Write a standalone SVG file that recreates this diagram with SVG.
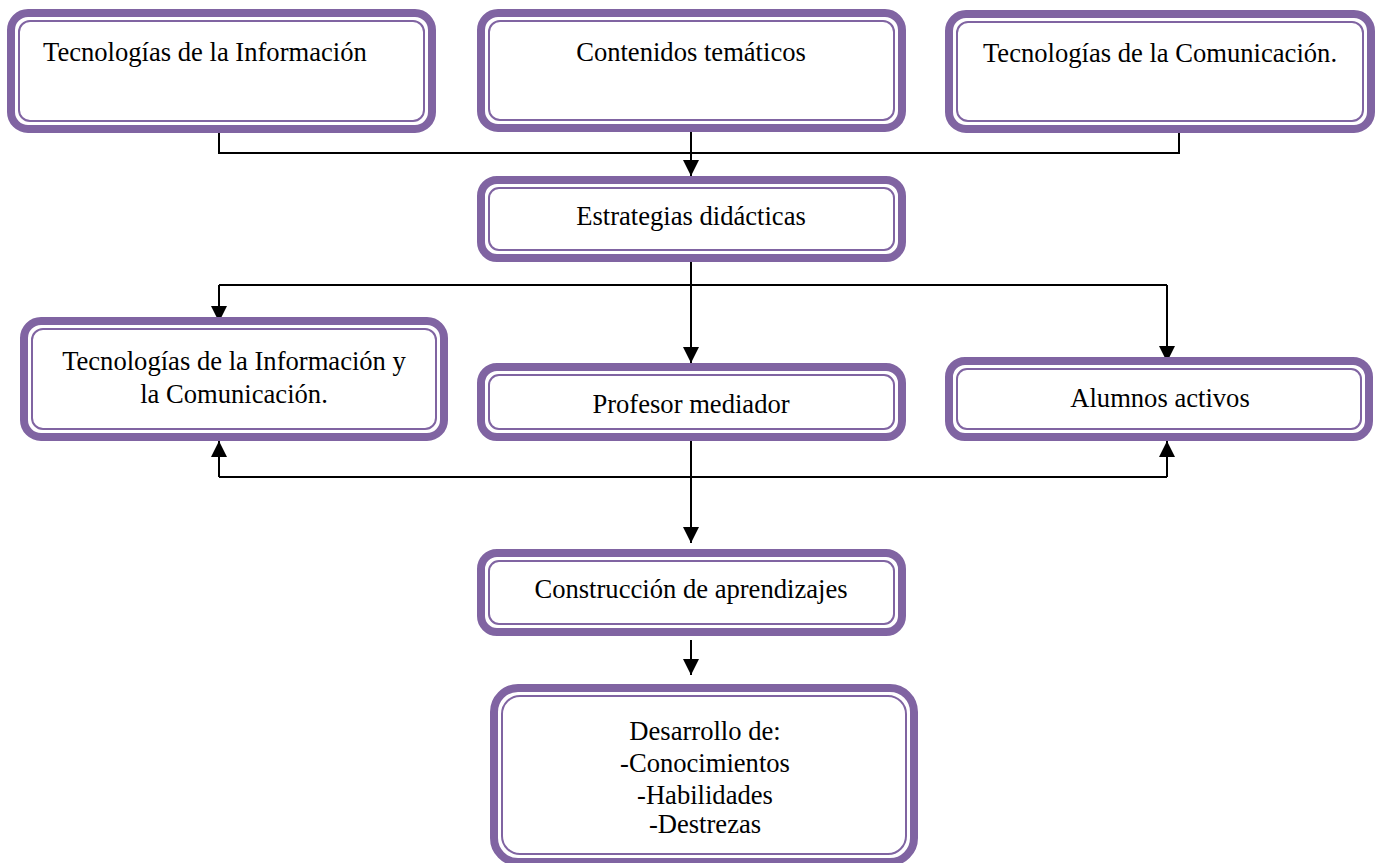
<svg xmlns="http://www.w3.org/2000/svg" width="1376" height="863" viewBox="0 0 1376 863">
<style>
.outer{fill:#fff;stroke:#8064A2;stroke-width:8}
.inner{fill:none;stroke:#8064A2;stroke-width:2}
.t{font-family:"Liberation Serif","Times New Roman",serif;font-size:26.6px;fill:#000}
.c{text-anchor:middle}
.ln{fill:none;stroke:#000;stroke-width:2}
</style>
<defs>
<marker id="ah" viewBox="0 0 16 16" refX="16" refY="8" markerWidth="16" markerHeight="16" markerUnits="userSpaceOnUse" orient="auto">
<path d="M0,0 L16,8 L0,16 z" fill="#000"/>
</marker>
</defs>
<rect width="1376" height="863" fill="#fff"/>
<g id="connectors">
<path class="ln" d="M219,133 V153 H1179 V133"/>
<path class="ln" d="M691,132 V176" marker-end="url(#ah)"/>
<path class="ln" d="M691,262 V363" marker-end="url(#ah)"/>
<path class="ln" d="M219,285 H1167"/>
<path class="ln" d="M219,285 V322" marker-end="url(#ah)"/>
<path class="ln" d="M1167,285 V362" marker-end="url(#ah)"/>
<path class="ln" d="M691,441 V543" marker-end="url(#ah)"/>
<path class="ln" d="M219,477 H1167"/>
<path class="ln" d="M219,477 V441" marker-end="url(#ah)"/>
<path class="ln" d="M1167,477 V441" marker-end="url(#ah)"/>
<path class="ln" d="M691,640 V675" marker-end="url(#ah)"/>
</g>
<g id="n1">
<rect class="outer" x="11" y="13" width="421" height="116" rx="17"/>
<rect class="inner" x="19" y="21" width="405" height="100" rx="11"/>
<text class="t" x="43" y="61">Tecnologías de la Información</text>
</g>
<g id="n2">
<rect class="outer" x="481" y="13" width="421" height="115" rx="17"/>
<rect class="inner" x="489" y="21" width="405" height="99" rx="11"/>
<text class="t c" x="691" y="61">Contenidos temáticos</text>
</g>
<g id="n3">
<rect class="outer" x="949" y="14" width="422" height="115" rx="17"/>
<rect class="inner" x="957" y="22" width="406" height="99" rx="11"/>
<text class="t c" x="1160" y="62">Tecnologías de la Comunicación.</text>
</g>
<g id="n4">
<rect class="outer" x="481" y="180" width="421" height="78" rx="16"/>
<rect class="inner" x="489" y="188" width="405" height="62" rx="10"/>
<text class="t c" x="691" y="225">Estrategias didácticas</text>
</g>
<g id="n5">
<rect class="outer" x="24" y="321" width="420" height="116" rx="17"/>
<rect class="inner" x="32" y="329" width="404" height="100" rx="11"/>
<text class="t c" x="234" y="370">Tecnologías de la Información y</text>
<text class="t c" x="234" y="403">la Comunicación.</text>
</g>
<g id="n6">
<rect class="outer" x="481" y="367" width="421" height="70" rx="16"/>
<rect class="inner" x="489" y="375" width="405" height="54" rx="10"/>
<text class="t c" x="691" y="413">Profesor mediador</text>
</g>
<g id="n7">
<rect class="outer" x="949" y="361" width="420" height="76" rx="16"/>
<rect class="inner" x="957" y="369" width="404" height="60" rx="10"/>
<text class="t c" x="1160" y="407">Alumnos activos</text>
</g>
<g id="n8">
<rect class="outer" x="481" y="553" width="421" height="79" rx="16"/>
<rect class="inner" x="489" y="561" width="405" height="63" rx="10"/>
<text class="t c" x="691" y="598">Construcción de aprendizajes</text>
</g>
<g id="n9">
<rect class="outer" x="494" y="688" width="420" height="174" rx="24"/>
<rect class="inner" x="502" y="696" width="404" height="158" rx="18"/>
<text class="t c" x="705" y="740">Desarrollo de:</text>
<text class="t c" x="705" y="772">-Conocimientos</text>
<text class="t c" x="705" y="804">-Habilidades</text>
<text class="t c" x="705" y="833">-Destrezas</text>
</g>
</svg>
